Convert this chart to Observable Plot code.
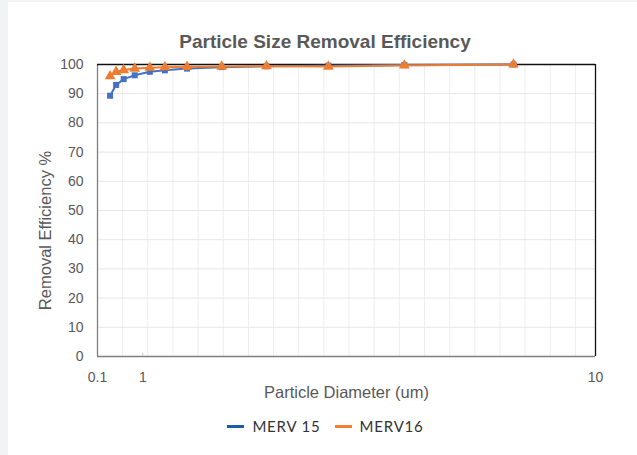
<!DOCTYPE html>
<html>
<head>
<meta charset="utf-8">
<script src="https://cdn.jsdelivr.net/npm/d3@7"></script>
<script src="https://cdn.jsdelivr.net/npm/@observablehq/plot@0.6"></script>
<style>
  html, body { margin: 0; padding: 0; width: 637px; height: 455px; background: #f1f3f5; overflow: hidden; }
  #card { position: absolute; left: 8px; top: 2px; width: 629px; height: 453px; background: #fff; }
  #chart { position: absolute; left: 0; top: 0; }
  #title { position: absolute; left: 0; width: 650px; top: 31px; text-align: center;
           font: bold 19px "Liberation Sans", Arial, sans-serif; color: #595959; }
  #legend { position: absolute; top: 417px; left: 0; width: 637px; display: flex; justify-content: center; gap: 14px;
            font: 15px "Lato", "Open Sans", sans-serif; color: #333; letter-spacing: 0.8px; padding-left: 14px; box-sizing: border-box; }
  .item { display: flex; align-items: center; gap: 8px; }
  .sw { width: 17px; height: 3px; }
</style>
</head>
<body>
<div id="card"></div>
<div id="chart"></div>
<div id="title">Particle Size Removal Efficiency</div>
<div id="legend"></div>
<script>
const diameters = [0.35, 0.47, 0.62, 0.84, 1.14, 1.44, 1.88, 2.57, 3.46, 4.69, 6.20, 8.37];
const merv15 = [89.3, 93.0, 95.0, 96.3, 97.5, 98.0, 98.6, 99.1, 99.4, 99.6, 99.8, 100];
const merv16 = [96.0, 97.5, 98.1, 98.6, 98.9, 99.1, 99.2, 99.3, 99.4, 99.3, 99.7, 100];
const seriesNames = ["MERV 15", "MERV16"];
const seriesColors = ["#4472c4", "#ed7d31"];
const legendColors = ["#1b5ea6", "#f47e33"];
const xTicks = [0.1, 1, 10];
const yTicks = [0, 10, 20, 30, 40, 50, 60, 70, 80, 90, 100];
const xGrid = d3.range(0, 20).map(k => 0.1 + 0.5 * k);

const rows15 = diameters.map((d, i) => ({x: d, y: merv15[i]}));
const rows16 = diameters.map((d, i) => ({x: d, y: merv16[i]}));

const plot = Plot.plot({
  width: 637,
  height: 412,
  marginLeft: 97,
  marginRight: 42,
  marginTop: 64,
  marginBottom: 56,
  style: {background: "transparent", fontFamily: "'Liberation Sans', Arial, sans-serif", color: "#595959"},
  x: {type: "linear", domain: [0.1, 10], axis: null},
  y: {type: "linear", domain: [0, 100], axis: null},
  marks: [
    Plot.ruleX(xGrid.slice(1), {stroke: "#ededed", strokeWidth: 1}),
    Plot.ruleY(yTicks.slice(1, -1), {stroke: "#e6e6e6", strokeWidth: 1}),
    Plot.ruleY([0], {stroke: "#7f7f7f", strokeWidth: 1.3}),
    Plot.ruleX([0.1], {stroke: "#7f7f7f", strokeWidth: 1.3}),
    Plot.ruleY([100], {stroke: "#111", strokeWidth: 1.3}),
    Plot.ruleX([10], {stroke: "#111", strokeWidth: 1.3}),
    Plot.ruleX([1], {y1: 0, y2: 1, stroke: "#c8c8c8"}),
    Plot.text(xTicks, {x: d => d, y: 0, dy: 21, text: d => String(d), fontSize: 14, fill: "#595959"}),
    Plot.text(yTicks, {x: 0.1, y: d => d, dx: -14, textAnchor: "end", text: d => String(d), fontSize: 14, fill: "#595959"}),
    Plot.line(rows15, {x: "x", y: "y", stroke: seriesColors[0], strokeWidth: 2}),
    Plot.dot(rows15, {x: "x", y: "y", symbol: "square", fill: seriesColors[0], r: 3.4}),
    Plot.line(rows16, {x: "x", y: "y", stroke: seriesColors[1], strokeWidth: 2}),
    Plot.dot(rows16, {x: "x", y: "y", symbol: "triangle", fill: seriesColors[1], r: 4}),
    Plot.text(["Particle Diameter (um)"], {frameAnchor: "bottom", dy: 41, fontSize: 16.5, fill: "#595959"}),
    Plot.text(["Removal Efficiency %"], {frameAnchor: "left", textAnchor: "middle", dx: -52, dy: 20, rotate: -90, fontSize: 16.5, fill: "#595959"})
  ]
});
document.getElementById("chart").appendChild(plot);

const legend = document.getElementById("legend");
seriesNames.forEach((name, i) => {
  const it = document.createElement("div");
  it.className = "item";
  const sw = document.createElement("div");
  sw.className = "sw";
  sw.style.background = legendColors[i];
  const t = document.createElement("span");
  t.textContent = name;
  it.appendChild(sw); it.appendChild(t);
  legend.appendChild(it);
});
</script>
</body>
</html>
